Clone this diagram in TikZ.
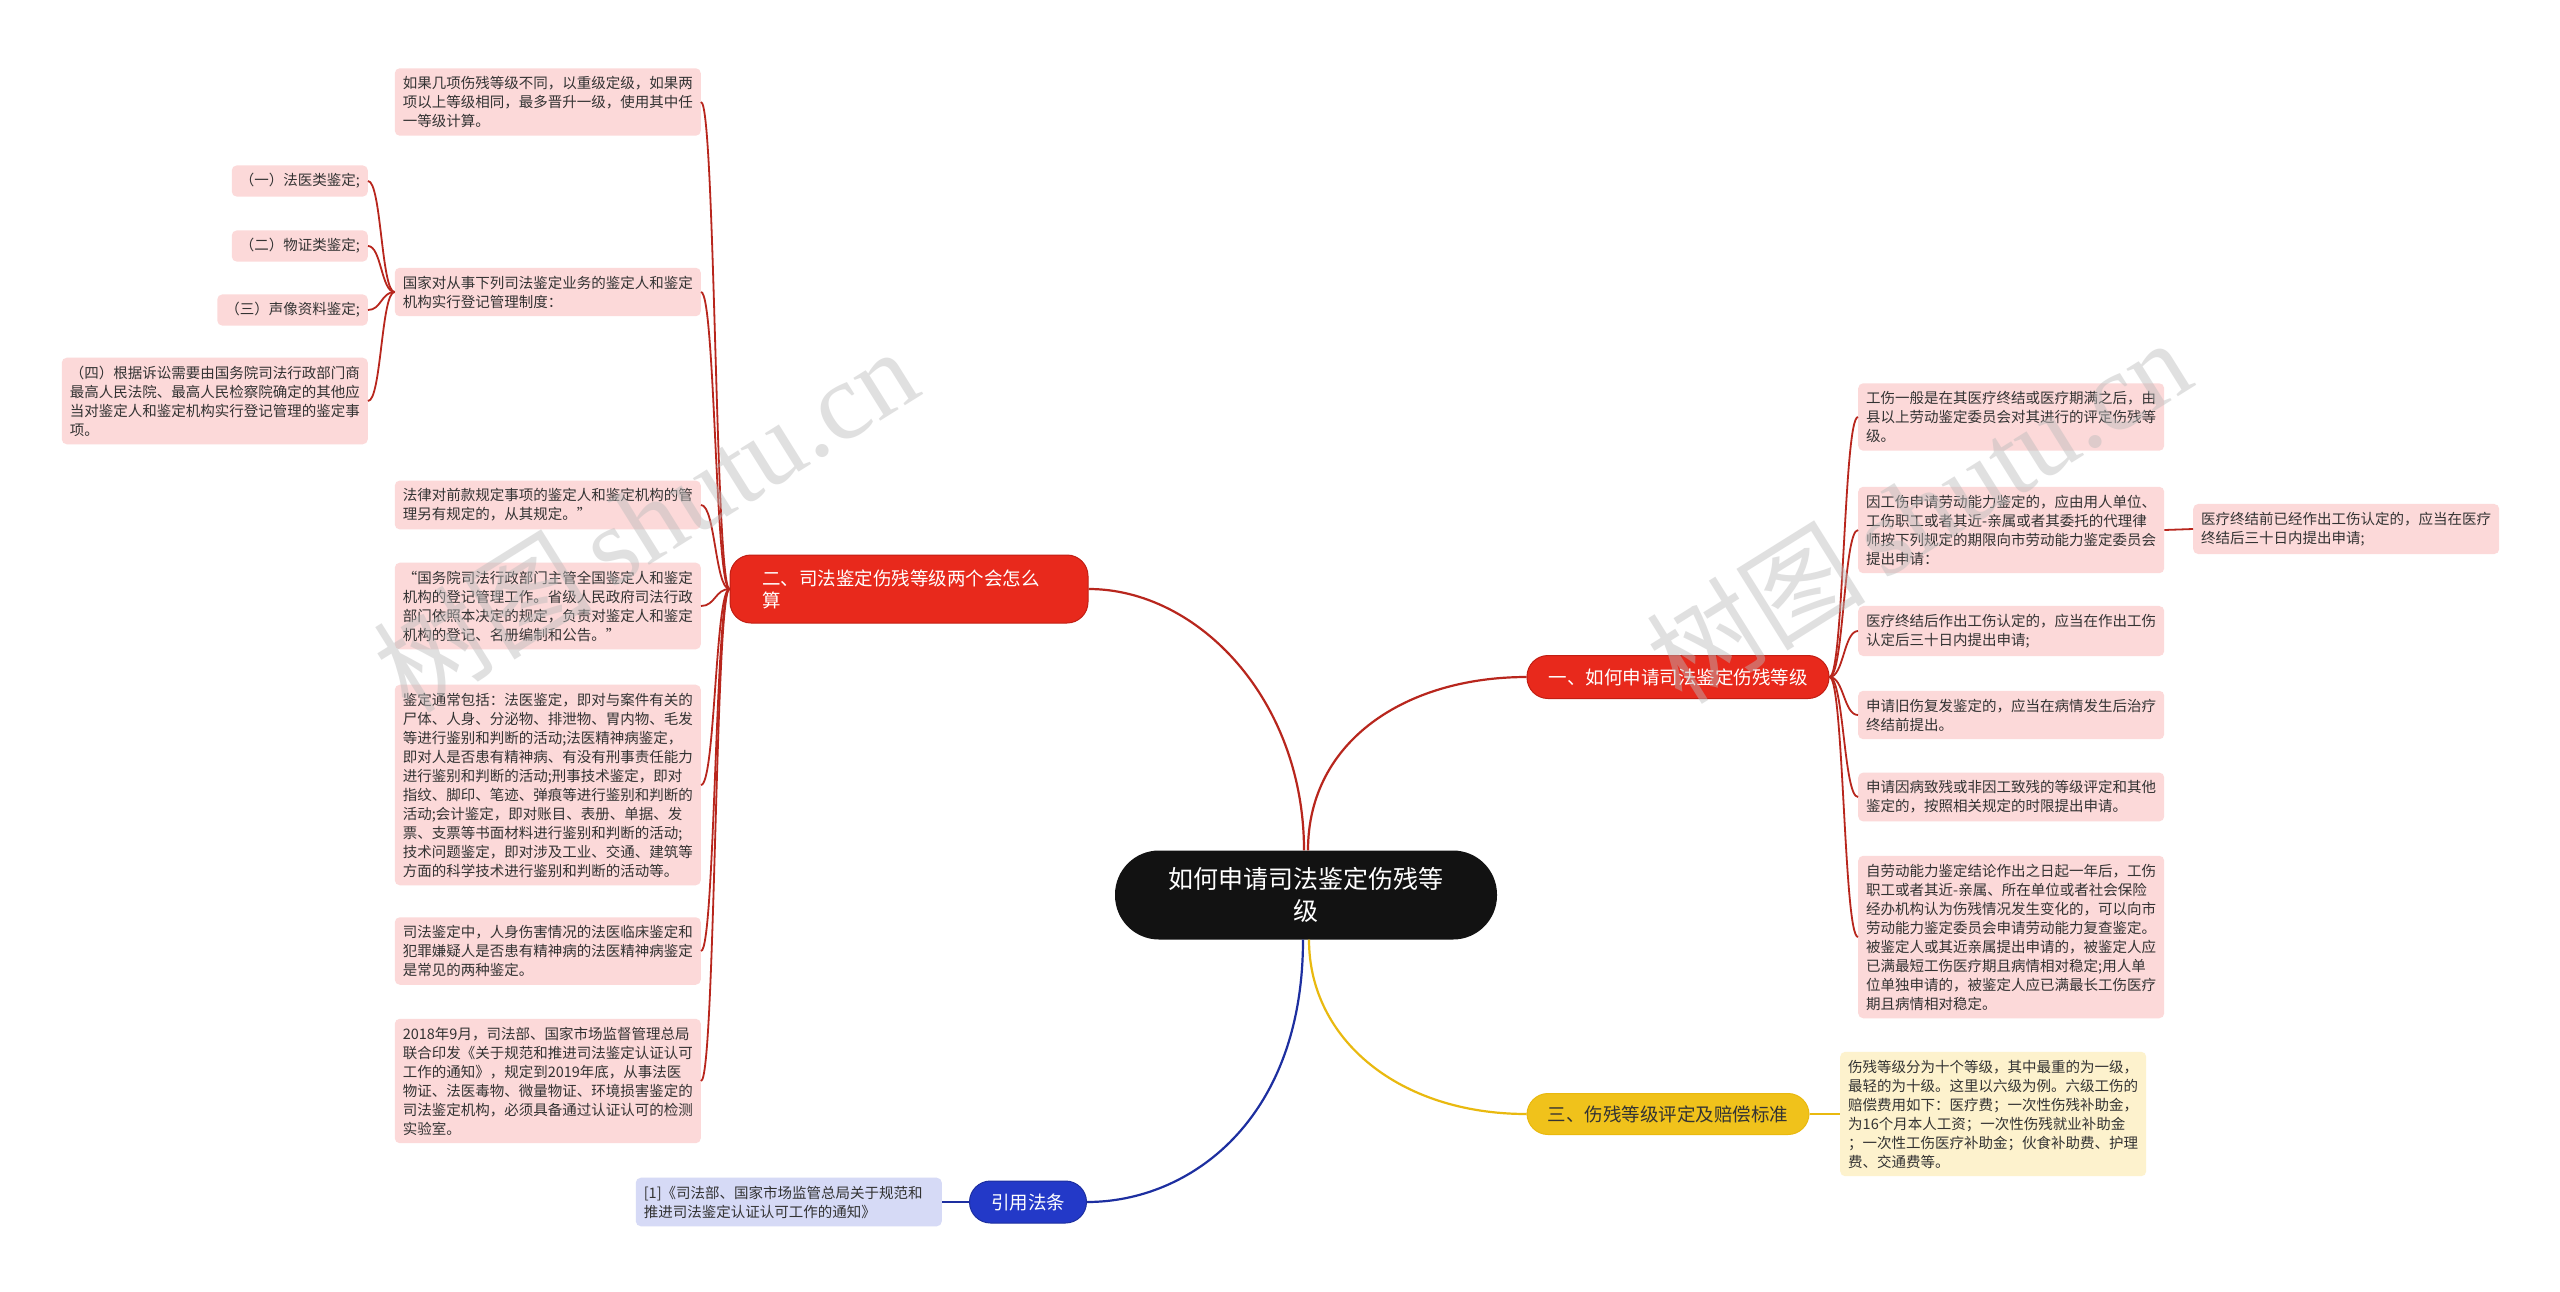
\documentclass[tikz,border=0pt]{standalone}
\usepackage{fontspec}
\setmainfont{Noto Sans CJK SC}
\newfontfamily\wmfont{Liberation Serif}
\usetikzlibrary{calc}
\definecolor{leafpink}{HTML}{FCD9D9}
\definecolor{leafblue}{HTML}{D6DAF6}
\definecolor{leafyellow}{HTML}{FDF2CD}
\definecolor{redfill}{HTML}{E8291C}
\definecolor{redborder}{HTML}{C21E13}
\definecolor{redline}{HTML}{B8261D}
\definecolor{yelfill}{HTML}{F0C21B}
\definecolor{yelline}{HTML}{E9B90F}
\definecolor{bluefill}{HTML}{2339C8}
\definecolor{blueline}{HTML}{1D2FA0}
\definecolor{txt}{HTML}{333333}
\definecolor{wm}{HTML}{BBBBBB}
\begin{document}
\begin{tikzpicture}[x=1pt,y=-1pt,
  leaf/.style={fill=leafpink, rounded corners=5pt, inner xsep=8pt, inner ysep=8pt,
    text width=290pt, align=left, font=\fontsize{14.5}{19}\selectfont, text=txt},
  shortleaf/.style={fill=leafpink, rounded corners=5pt, inner xsep=8pt, inner ysep=8pt,
    font=\fontsize{14.5}{19}\selectfont, text=txt},
  branch/.style={rounded corners=21pt, font=\fontsize{18.5}{22}\selectfont, line width=1pt},
  redbranch/.style={branch, fill=redfill, draw=redborder, text=white},
  conn/.style={line width=1.8pt},
  mm/.style={to path={let \p1=(\tikztostart), \p2=(\tikztotarget) in
    .. controls ({(\x1+\x2)/2},\y1) and ({(\x1+\x2)/2},\y2) .. (\tikztotarget)}},
]
\useasboundingbox (0,0) rectangle (2560,1291);
\fill[white] (0,0) rectangle (2560,1291);

% center
\node[fill=black!93, rounded corners=44pt, minimum width=382pt, minimum height=89pt,
  text=white, align=center, font=\fontsize{25}{32}\selectfont] (c) at (1306,895)
  {如何申请司法鉴定伤残等\\级};

% branches
\node[redbranch, minimum width=302pt, minimum height=43pt] (b1) at (1678,677) {一、如何申请司法鉴定伤残等级};
\node[redbranch, minimum width=358pt, minimum height=68pt, text width=294pt, inner xsep=32pt, align=left] (b2) at (909,589) {二、司法鉴定伤残等级两个会怎么\\算};
\node[branch, fill=yelfill, draw=yelline, text=txt, minimum width=282pt, minimum height=41pt] (b3) at (1668,1114) {三、伤残等级评定及赔偿标准};
\node[branch, fill=bluefill, draw=blueline, text=white, minimum width=117pt, minimum height=42pt] (b4) at (1028,1202) {引用法条};

% left leaves
\node[leaf, anchor=east] (l1) at (701,102) {如果几项伤残等级不同，以重级定级，如果两\\项以上等级相同，最多晋升一级，使用其中任\\一等级计算。};
\node[leaf, anchor=east] (l2) at (701,292) {国家对从事下列司法鉴定业务的鉴定人和鉴定\\机构实行登记管理制度：};
\node[shortleaf, anchor=east] (l2a) at (368,181) {（一）法医类鉴定;};
\node[shortleaf, anchor=east] (l2b) at (368,246) {（二）物证类鉴定;};
\node[shortleaf, anchor=east] (l2c) at (368,310) {（三）声像资料鉴定;};
\node[leaf, anchor=east] (l2d) at (368,401) {（四）根据诉讼需要由国务院司法行政部门商\\最高人民法院、最高人民检察院确定的其他应\\当对鉴定人和鉴定机构实行登记管理的鉴定事\\项。};
\node[leaf, anchor=east] (l3) at (701,505) {法律对前款规定事项的鉴定人和鉴定机构的管\\理另有规定的，从其规定。”};
\node[leaf, anchor=east] (l4) at (701,606) {“国务院司法行政部门主管全国鉴定人和鉴定\\机构的登记管理工作。省级人民政府司法行政\\部门依照本决定的规定，负责对鉴定人和鉴定\\机构的登记、名册编制和公告。”};
\node[leaf, anchor=east] (l5) at (701,785) {鉴定通常包括：法医鉴定，即对与案件有关的\\尸体、人身、分泌物、排泄物、胃内物、毛发\\等进行鉴别和判断的活动;法医精神病鉴定，\\即对人是否患有精神病、有没有刑事责任能力\\进行鉴别和判断的活动;刑事技术鉴定，即对\\指纹、脚印、笔迹、弹痕等进行鉴别和判断的\\活动;会计鉴定，即对账目、表册、单据、发\\票、支票等书面材料进行鉴别和判断的活动;\\技术问题鉴定，即对涉及工业、交通、建筑等\\方面的科学技术进行鉴别和判断的活动等。};
\node[leaf, anchor=east] (l6) at (701,951) {司法鉴定中，人身伤害情况的法医临床鉴定和\\犯罪嫌疑人是否患有精神病的法医精神病鉴定\\是常见的两种鉴定。};
\node[leaf, anchor=east] (l7) at (701,1081) {2018年9月，司法部、国家市场监督管理总局\\联合印发《关于规范和推进司法鉴定认证认可\\工作的通知》，规定到2019年底，从事法医\\物证、法医毒物、微量物证、环境损害鉴定的\\司法鉴定机构，必须具备通过认证认可的检测\\实验室。};

% reference leaf
\node[leaf, fill=leafblue, anchor=east] (ref) at (942,1202) {[1]《司法部、国家市场监管总局关于规范和\\推进司法鉴定认证认可工作的通知》};

% right leaves
\node[leaf, anchor=west] (r1) at (1858,417) {工伤一般是在其医疗终结或医疗期满之后，由\\县以上劳动鉴定委员会对其进行的评定伤残等\\级。};
\node[leaf, anchor=west] (r2) at (1858,530) {因工伤申请劳动能力鉴定的，应由用人单位、\\工伤职工或者其近-亲属或者其委托的代理律\\师按下列规定的期限向市劳动能力鉴定委员会\\提出申请：};
\node[leaf, anchor=west] (r2a) at (2193,529) {医疗终结前已经作出工伤认定的，应当在医疗\\终结后三十日内提出申请;};
\node[leaf, anchor=west] (r3) at (1858,631) {医疗终结后作出工伤认定的，应当在作出工伤\\认定后三十日内提出申请;};
\node[leaf, anchor=west] (r4) at (1858,715) {申请旧伤复发鉴定的，应当在病情发生后治疗\\终结前提出。};
\node[leaf, anchor=west] (r5) at (1858,797) {申请因病致残或非因工致残的等级评定和其他\\鉴定的，按照相关规定的时限提出申请。};
\node[leaf, anchor=west] (r6) at (1858,937) {自劳动能力鉴定结论作出之日起一年后，工伤\\职工或者其近-亲属、所在单位或者社会保险\\经办机构认为伤残情况发生变化的，可以向市\\劳动能力鉴定委员会申请劳动能力复查鉴定。\\被鉴定人或其近亲属提出申请的，被鉴定人应\\已满最短工伤医疗期且病情相对稳定;用人单\\位单独申请的，被鉴定人应已满最长工伤医疗\\期且病情相对稳定。};
\node[leaf, fill=leafyellow, anchor=west] (y1) at (1840,1114) {伤残等级分为十个等级，其中最重的为一级，\\最轻的为十级。这里以六级为例。六级工伤的\\赔偿费用如下：医疗费；一次性伤残补助金，\\为16个月本人工资；一次性伤残就业补助金\\；一次性工伤医疗补助金；伙食补助费、护理\\费、交通费等。};

% center connectors
\draw[redline, line width=2.2pt] ([xshift=2pt]c.north) .. controls +(0,-110) and +(-120,0) .. (b1.west);
\draw[redline, line width=2.2pt] ([xshift=-2pt]c.north) .. controls +(0,-150) and +(110,0) .. (b2.east);
\draw[yelline, line width=2.2pt] ([xshift=3pt]c.south) .. controls +(0,100) and +(-127,0) .. (b3.west);
\draw[blueline, line width=2.2pt] ([xshift=-3pt]c.south) .. controls +(0,180) and +(103,0) .. (b4.east);

% branch 2 connectors
\foreach \t in {l1,l2,l3,l4,l5,l6,l7}
  \draw[redline, conn] (b2.west) to[mm] (\t.east);
\foreach \t in {l2a,l2b,l2c,l2d}
  \draw[redline, conn] (l2.west) to[mm] (\t.east);

% branch 1 connectors
\foreach \t in {r1,r2,r3,r4,r5,r6}
  \draw[redline, conn] (b1.east) to[mm] (\t.west);
\draw[redline, conn] (r2.east) to[mm] (r2a.west);

% branch 3 and 4
\draw[yelline, conn] (b3.east) -- (y1.west);
\draw[blueline, conn] (b4.west) -- (ref.east);

% watermarks
\node[rotate=32, text=wm, opacity=0.45, font=\fontsize{110}{110}\selectfont] (wm1) at (645,519) {树图\,{\wmfont shutu.cn}};
\node[rotate=32, text=wm, opacity=0.45, font=\fontsize{110}{110}\selectfont] (wm2) at (1918,510) {树图\,{\wmfont shutu.cn}};
\end{tikzpicture}
\end{document}
